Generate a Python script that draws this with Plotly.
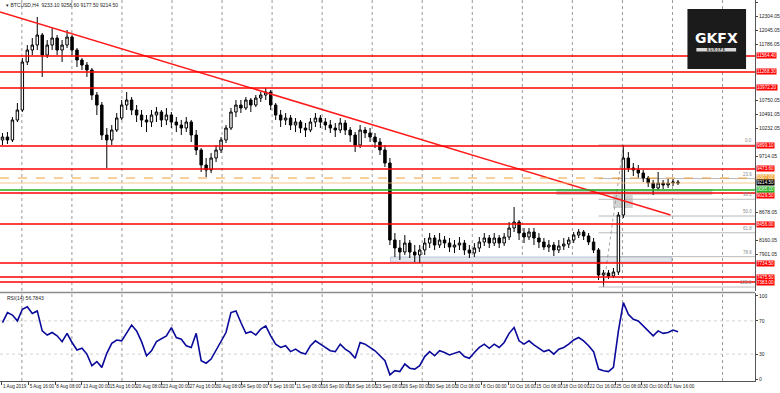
import plotly.graph_objects as go

# ---------------- data ----------------
opens = [10010,10065,10010,10380,10565,11453,11675,11767,11952,11582,11767,11897,11675,11767,11915,11675,11490,11397,11305,10842,
         10657,10102,10010,10195,10417,10657,10750,10565,10472,10380,10343,10472,10528,10380,10472,10343,10287,10232,10343,10102,
         9825,9547,9455,9677,9825,10010,10232,10528,10657,10602,10750,10657,10787,10842,10898,10657,10472,10380,10417,10287,
         10343,10232,10195,10343,10417,10343,10287,10232,10195,10324,10195,10102,9917,10195,10139,10065,9973,9825,9584,8160,
         8012,7938,8104,7938,7882,7975,8104,8197,8067,8160,8104,8030,8067,8104,7975,7919,8012,8123,8197,8104,
         8197,8104,8215,8382,8493,8289,8215,8308,8197,8123,8030,8067,7975,8049,8086,8160,8252,8308,8234,8123,
         7975,7512,7549,7494,7568,8622,9677,9492,9455,9399,9307,9214,9122,9214,9177,9214,9233]
highs = [10139,10158,10435,10694,11527,11767,11897,12286,11990,11860,12082,11952,11860,12045,11952,11712,11527,11453,11342,10898,
         10713,10232,10287,10509,10750,10898,10805,10657,10565,10472,10565,10620,10565,10602,10528,10435,10380,10435,10380,10195,
         9862,9677,9769,9917,10065,10287,10602,10750,10750,10805,10787,10842,10898,10972,10935,10694,10565,10509,10472,10417,
         10380,10324,10417,10509,10472,10417,10380,10324,10417,10380,10250,10158,10287,10250,10232,10139,10047,9917,9677,8289,
         8160,8252,8160,8067,8067,8197,8289,8252,8289,8234,8197,8160,8215,8160,8067,8104,8215,8289,8252,8289,
         8252,8289,8493,8770,8530,8382,8382,8382,8289,8197,8160,8123,8160,8197,8215,8308,8363,8345,8289,8197,
         8012,7605,7605,7642,8678,9917,9788,9584,9547,9455,9344,9270,9418,9270,9288,9288,9270]
lows = [9917,9936,9973,10343,10528,11397,11582,11675,11175,11527,11675,11582,11453,11712,11582,11360,11305,11175,10750,10472,
        10010,9492,9917,10158,10380,10565,10472,10343,10250,10158,10250,10343,10250,10287,10232,10158,10102,10158,9973,9732,
        9418,9325,9399,9603,9769,9954,10195,10435,10509,10565,10528,10620,10713,10750,10565,10380,10250,10287,10195,10158,
        10139,10065,10158,10250,10232,10195,10139,10065,10139,10102,9973,9788,9862,10047,9973,9862,9732,9510,8067,7845,
        7790,7882,7827,7753,7734,7882,8012,7975,8012,8012,7938,7919,7975,7882,7827,7845,7938,8049,8012,8049,
        8012,8049,8160,8308,8160,8104,8160,8067,8012,7975,7938,7864,7919,7975,8012,8104,8197,8160,8067,7919,
        7420,7290,7438,7457,7512,8567,9418,9344,9307,9233,9140,8992,9085,9103,9122,9159,9177]
closes = [10065,10010,10380,10565,11453,11675,11767,11952,11582,11767,11897,11675,11767,11915,11675,11490,11397,11305,10842,10657,
          10102,10010,10195,10417,10657,10750,10565,10472,10380,10343,10472,10528,10380,10472,10343,10287,10232,10343,10102,9825,
          9547,9455,9677,9825,10010,10232,10528,10657,10602,10750,10657,10787,10842,10898,10657,10472,10380,10417,10287,10343,
          10232,10195,10343,10417,10343,10287,10232,10195,10324,10195,10102,9917,10195,10139,10065,9973,9825,9584,8160,8012,
          7938,8104,7938,7882,7975,8104,8197,8067,8160,8104,8030,8067,8104,7975,7919,8012,8123,8197,8104,8197,
          8104,8215,8382,8493,8289,8215,8308,8197,8123,8030,8067,7975,8049,8086,8160,8252,8308,8234,8123,7975,
          7512,7549,7494,7568,8622,9677,9492,9455,9399,9307,9214,9122,9214,9177,9214,9233,9214]
rsi_values = [68,80,77,70,84,87,79,82,58,53,56,52,45,55,44,35,37,30,16,21,
              14,31,43,47,46,55,65,58,45,28,34,45,48,52,62,50,48,40,38,55,
              22,19,24,35,45,56,80,82,68,55,57,53,60,64,52,42,38,40,33,36,
              32,30,40,46,42,38,34,33,42,36,32,25,44,42,38,34,28,22,5,10,
              9,18,13,12,16,27,33,28,34,32,29,31,33,27,25,32,38,42,37,42,
              38,44,55,62,46,42,46,41,37,33,35,30,36,38,42,47,50,46,40,33,
              12,10,9,14,58,92,78,72,70,64,58,52,58,55,56,59,57]

date_labels = ["1 Aug 2019", "5 Aug 16:00", "8 Aug 08:00", "13 Aug 00:00", "15 Aug 16:00", "20 Aug 08:00",
               "23 Aug 00:00", "27 Aug 16:00", "30 Aug 08:00", "4 Sep 00:00", "6 Sep 16:00", "11 Sep 08:00",
               "16 Sep 00:00", "18 Sep 16:00", "23 Sep 08:00", "26 Sep 00:00", "30 Sep 16:00", "3 Oct 08:00",
               "8 Oct 00:00", "10 Oct 16:00", "15 Oct 08:00", "18 Oct 00:00", "22 Oct 16:00", "25 Oct 08:00",
               "30 Oct 00:00", "1 Nov 16:00"]
price_ticks = [12563.05, 12304.05, 12045.05, 11786.05, 11527.05, 11268.05, 11009.05, 10750.05, 10491.05,
               10232.05, 9973.05, 9714.05, 9455.05, 9196.05, 8937.05, 8678.05, 8419.05, 8160.05, 7901.05,
               7642.05, 7383.05]
rsi_ticks = [100, 70, 30, 0]
rsi_levels = [70, 30]

red_levels = [11564.40, 11268.30, 10972.20, 9899.10, 9473.60, 9029.50, 8456.00, 7734.50, 7475.50, 7383.00]
orange_level = 9307.00
bid_level = 9214.50
green_level = 9085.00
trend_prices = [12378, 8622]
fib_low, fib_high = 7290, 9917
fib_ratios = [0.0, 23.6, 38.2, 50.0, 61.8, 78.6, 100.0]
fib_low_idx, fib_high_idx = 121, 125
title_text = "\u25be BTCUSD,H4  9233.10 9258.60 9177.50 9214.50"
rsi_text = "RSI(14) 56.7843"

# ---------------- geometry (pixel layout of the 780x393 page) ----------------
W, H = 780, 393
PW, PH = 760, 381          # plot area
PX = 5.0                   # pixels per candle
def cx(px):                # pixel -> candle axis units
    return px / PX - 0.5
def py(p):                 # pixel y -> paper y
    return 1 - p / PH

main_top_price = 12600.0
price_per_px = 18.5
main_bottom_px = 291
main_range = [main_top_price - main_bottom_px * price_per_px, main_top_price]

n = len(closes)
idx = list(range(n))

fig = go.Figure()
fig.add_trace(go.Candlestick(
    x=idx, open=opens, high=highs, low=lows, close=closes,
    increasing=dict(line=dict(color="black", width=1), fillcolor="white"),
    decreasing=dict(line=dict(color="black", width=1), fillcolor="black"),
    whiskerwidth=0, showlegend=False, hoverinfo="skip", xaxis="x", yaxis="y"))

fig.add_trace(go.Scatter(x=[cx(0), cx(675)], y=trend_prices, mode="lines",
                         line=dict(color="#ff1a1a", width=1.5), showlegend=False,
                         hoverinfo="skip", xaxis="x", yaxis="y"))
fig.add_trace(go.Scatter(x=[fib_low_idx, fib_high_idx], y=[fib_low, fib_high], mode="lines",
                         line=dict(color="#8a8a8a", width=0.8, dash="dot"), showlegend=False,
                         hoverinfo="skip", xaxis="x", yaxis="y"))
fig.add_trace(go.Scatter(x=idx, y=rsi_values, mode="lines",
                         line=dict(color="#0a0a9a", width=1.6), showlegend=False,
                         hoverinfo="skip", xaxis="x", yaxis="y2"))

shapes = []
for k in range(15):
    gx = 22 + 50.38 * k
    if gx > 755:
        break
    shapes.append(dict(type="line", xref="x", yref="paper", x0=cx(gx), x1=cx(gx), y0=0, y1=1,
                       line=dict(color="#9a9a9a", width=1, dash="dot"), layer="below"))
shapes.append(dict(type="rect", xref="x", yref="y", x0=cx(560), x1=cx(717), y0=8992, y1=9103,
                   fillcolor="#cfcfcf", line=dict(width=0), layer="below"))
shapes.append(dict(type="rect", xref="x", yref="y", x0=cx(617), x1=cx(637), y0=8752, y1=8992,
                   fillcolor="#d2d2d2", line=dict(width=0), layer="below"))
shapes.append(dict(type="rect", xref="x", yref="y", x0=cx(393), x1=cx(676), y0=7753, y1=7845,
                   fillcolor="#e3e6ea", line=dict(color="#b8c8dc", width=1), layer="below"))
for r in fib_ratios:
    lv = fib_high - (fib_high - fib_low) * r / 100
    shapes.append(dict(type="line", xref="x", yref="y", x0=fib_low_idx - 1, x1=cx(PW), y0=lv, y1=lv,
                       line=dict(color="#a8a8a8", width=0.8), layer="below"))
shapes.append(dict(type="line", xref="paper", yref="y", x0=0, x1=1, y0=orange_level, y1=orange_level,
                   line=dict(color="#f0a030", width=1, dash="dash")))
shapes.append(dict(type="line", xref="paper", yref="y", x0=0, x1=1, y0=bid_level, y1=bid_level,
                   line=dict(color="#f5b870", width=0.8)))
shapes.append(dict(type="line", xref="paper", yref="y", x0=0, x1=1, y0=green_level, y1=green_level,
                   line=dict(color="#22b022", width=1.3)))
for lv in red_levels:
    shapes.append(dict(type="line", xref="paper", yref="y", x0=0, x1=1, y0=lv, y1=lv,
                       line=dict(color="#ff0000", width=1.5)))
for lv in rsi_levels:
    shapes.append(dict(type="line", xref="paper", yref="y2", x0=0, x1=1, y0=lv, y1=lv,
                       line=dict(color="#c8c8c8", width=0.8, dash="dot"), layer="below"))
shapes.append(dict(type="line", xref="paper", yref="paper", x0=0, x1=1, y0=py(292.5), y1=py(292.5),
                   line=dict(color="#8c8c8c", width=1.5)))
shapes.append(dict(type="rect", xref="paper", yref="paper", x0=692 / PW, x1=751 / PW, y0=py(69), y1=py(9),
                   fillcolor="#1b1b1b", line=dict(width=0)))
shapes.append(dict(type="rect", xref="paper", yref="paper", x0=701 / PW, x1=741 / PW, y0=py(51.5), y1=py(48),
                   fillcolor="#d9d9d9", line=dict(width=0)))

ann = []
label_levels = []
def label(y, text, bg, fg="white", shift=0):
    label_levels.append(y)
    ann.append(dict(xref="paper", yref="y", x=1.0, y=y, xanchor="left", yanchor="middle", text=text,
                    showarrow=False, bgcolor=bg, font=dict(size=4.6, color=fg), borderpad=0,
                    xshift=1, yshift=shift))
for lv in red_levels:
    label(lv, "%.2f" % lv, "#ff0000", shift=(-2 if abs(lv - green_level) < 80 else 0))
label(orange_level, "%.2f" % orange_level, "#f0a030", shift=1)
label(bid_level, "%.2f" % bid_level, "#000000", shift=0.5)
label(green_level, "%.2f" % green_level, "#22b022", shift=1)
for r in fib_ratios:
    lv = fib_high - (fib_high - fib_low) * r / 100
    ann.append(dict(xref="paper", yref="y", x=1.0, y=lv, xanchor="right", yanchor="bottom",
                    text="%.1f" % r, showarrow=False, font=dict(size=4.5, color="#8a8a8a"), xshift=-1))
ann.append(dict(xref="paper", yref="paper", x=4 / PW, y=py(5), xanchor="left", yanchor="middle",
                text=title_text, showarrow=False, font=dict(size=5, color="#222")))
ann.append(dict(xref="paper", yref="paper", x=5 / PW, y=py(298), xanchor="left", yanchor="middle",
                text=rsi_text, showarrow=False, font=dict(size=5, color="#222")))
ann.append(dict(xref="paper", yref="paper", x=721 / PW, y=py(37.5), xanchor="center", yanchor="middle",
                text="<b>GKFX</b>", showarrow=False, font=dict(size=14, color="white", family="DejaVu Sans")))
ann.append(dict(xref="paper", yref="paper", x=721 / PW, y=py(49.8), xanchor="center", yanchor="middle",
                text="<b>E U R O P E</b>", showarrow=False, font=dict(size=3.2, color="#111")))

# hide axis labels that would sit under a level label (as the terminal does)
shown_ticks = [v for v in price_ticks if all(abs(v - lv) / price_per_px > 7 for lv in label_levels)]

tick_x = [cx(2 + 26.84 * k) for k in range(len(date_labels))]

fig.update_layout(
    width=W, height=H, margin=dict(l=0, r=W - PW, t=0, b=H - PH),
    paper_bgcolor="white", plot_bgcolor="white",
    font=dict(family="Liberation Sans", size=5, color="#222"),
    showlegend=False, shapes=shapes, annotations=ann,
    xaxis=dict(domain=[0, 1], range=[cx(0), cx(PW)], anchor="y2", rangeslider=dict(visible=False),
               tickvals=tick_x, ticktext=date_labels, ticks="outside", ticklen=3, tickcolor="#444",
               tickangle=0, ticklabelposition="outside right", tickfont=dict(size=4.6, color="#222"),
               showgrid=False, zeroline=False, showline=True, linecolor="#555", linewidth=1),
    yaxis=dict(domain=[py(main_bottom_px), 1], range=main_range, side="right", anchor="x",
               tickvals=shown_ticks, ticktext=["%.2f" % v for v in shown_ticks], ticks="outside",
               ticklen=2, tickcolor="#444", tickfont=dict(size=5, color="#222"),
               showgrid=False, zeroline=False, showline=True, linecolor="#555", linewidth=1),
    yaxis2=dict(domain=[0, py(293)], range=[-2.4, 103.6], side="right", anchor="x",
                tickvals=rsi_ticks, ticktext=[str(v) for v in rsi_ticks], ticks="outside",
                ticklen=2, tickcolor="#444", tickfont=dict(size=5, color="#222"),
                showgrid=False, zeroline=False, showline=True, linecolor="#555", linewidth=1),
)

fig.write_html("out.html")
